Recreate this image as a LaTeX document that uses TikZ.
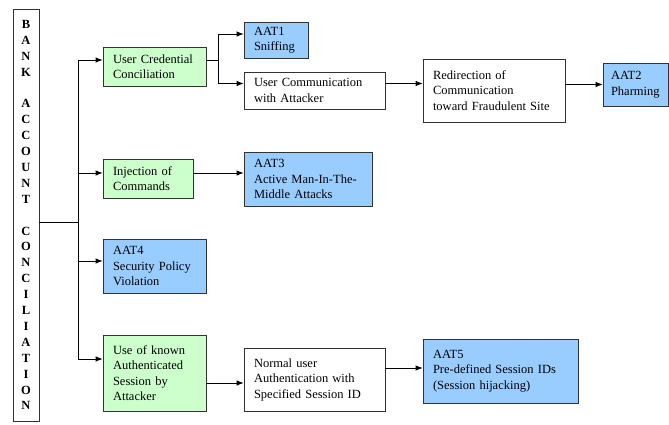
\documentclass[tikz,border=0pt]{standalone}
\usepackage{fontspec}
\setmainfont{Liberation Serif}
\usetikzlibrary{arrows.meta}
\definecolor{causegreen}{RGB}{204,255,204}
\definecolor{attackblue}{RGB}{153,204,255}

\begin{document}
\begin{tikzpicture}[x=1pt,y=-1pt,
        bx/.style={draw=black!80, line width=0.8pt, align=left, inner xsep=10pt, inner ysep=0pt,
            font=\fontsize{12.5}{15.5}\selectfont},
        cause/.style={bx, fill=causegreen},
        attack/.style={bx, fill=attackblue},
        stage/.style={bx, fill=white},
        wire/.style={line width=0.8pt},
        link/.style={wire, -{Latex[length=7pt,width=5.5pt]}}
    ]
    \useasboundingbox (0,0) rectangle (669,424);
    \def\gap{15.9pt}
    \node[draw=black!80, line width=0.8pt, minimum width=26pt, minimum height=412pt, inner sep=0pt,
        align=center, font=\fontsize{12.5}{15.9}\selectfont\bfseries] (bank) at (26,215)
        {B\\A\\N\\K\\[\gap]A\\C\\C\\O\\U\\N\\T\\[\gap]C\\O\\N\\C\\I\\L\\I\\A\\T\\I\\O\\N};

    \node[cause, text width=83pt, minimum height=39pt] (ucc) at (154.5,66.5) {User Credential\\Conciliation};
    \node[attack, text width=44pt, minimum height=36pt] (aat1) at (276,40) {AAT1\\Sniffing};
    \node[stage, text width=121pt, minimum height=37pt] (ucom) at (314.5,90.5) {User Communication\\with Attacker};
    \node[stage, text width=122pt, minimum height=63pt] (redir) at (494,90.5) {Redirection of\\Communication\\toward Fraudulent Site};
    \node[attack, inner xsep=8pt, text width=49pt, minimum height=43pt] (aat2) at (635.5,84.5) {AAT2\\Pharming};
    \node[cause, text width=70pt, minimum height=39pt] (inj) at (148,178.5) {Injection of\\Commands};
    \node[attack, text width=108pt, minimum height=54pt] (aat3) at (308,179) {AAT3\\Active Man-In-The-\\Middle Attacks};
    \node[attack, text width=83pt, minimum height=54pt] (aat4) at (154.5,266) {AAT4\\Security Policy\\Violation};
    \node[cause, text width=83pt, minimum height=76pt] (use) at (154.5,373) {Use of known\\Authenticated\\Session by\\Attacker};
    \node[stage, text width=121pt, minimum height=63pt] (norm) at (314.5,379.5) {Normal user\\Authentication with\\Specified Session ID};
    \node[attack, text width=135pt, minimum height=64pt] (aat5) at (500.5,371) {AAT5\\Pre-defined Session IDs\\(Session hijacking)};

    \coordinate (trunk) at (78,222);
    \coordinate (fork) at (218,60);
    \draw[wire] (bank.east |- trunk) -- (trunk);
    \draw[link] (trunk) |- ([yshift=6.5pt]ucc.west);
    \draw[link] (trunk) |- ([yshift=5.5pt]inj.west);
    \draw[link] (trunk) |- ([yshift=5pt]aat4.west);
    \draw[link] (trunk) |- ([yshift=14pt]use.west);

    \draw[wire] (ucc.east |- fork) -- (fork);
    \draw[link] (fork) |- ([yshift=6pt]aat1.west);
    \draw[link] (fork) |- ([yshift=7pt]ucom.west);
    \draw[link] ([yshift=7pt]ucom.east) -- ([yshift=7pt]ucom.east -| redir.west);
    \draw[link] (redir.east |- aat2) -- (aat2.west);
    \draw[link] ([yshift=5.5pt]inj.east) -- ([yshift=5.5pt]inj.east -| aat3.west);
    \draw[link] ([yshift=-10pt]use.east) -- ([yshift=-10pt]use.east -| norm.west);
    \draw[link] ([yshift=11.5pt]norm.east) -- ([yshift=11.5pt]norm.east -| aat5.west);
\end{tikzpicture}
\end{document}
